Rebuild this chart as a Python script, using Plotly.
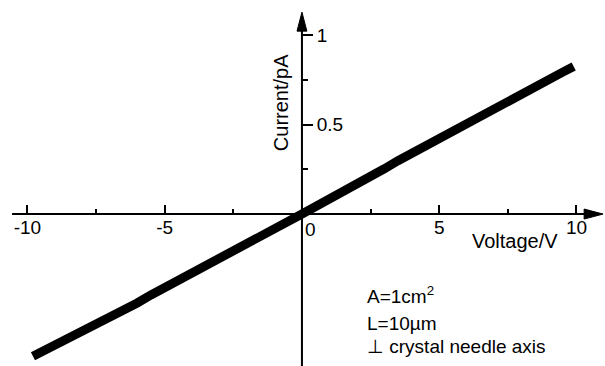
import plotly.graph_objects as go

# ---- data ----
voltage = [-9.8, -9.5, -9.0, -8.5, -8.0, -7.5, -7.0, -6.5, -6.0, -5.5, -5.0,
           -4.5, -4.0, -3.5, -3.0, -2.5, -2.0, -1.5, -1.0, -0.5, 0.0,
           0.5, 1.0, 1.5, 2.0, 2.5, 3.0, 3.5, 4.0, 4.5, 5.0,
           5.5, 6.0, 6.5, 7.0, 7.5, 8.0, 8.5, 9.0, 9.5, 9.9]
current = [-0.795, -0.772, -0.738, -0.698, -0.657, -0.618, -0.577, -0.538, -0.497, -0.452, -0.412,
           -0.372, -0.333, -0.290, -0.252, -0.210, -0.170, -0.127, -0.086, -0.043, 0.000,
           0.042, 0.082, 0.127, 0.168, 0.212, 0.253, 0.298, 0.340, 0.385, 0.428,
           0.468, 0.510, 0.552, 0.590, 0.633, 0.672, 0.712, 0.752, 0.793, 0.825]

x_major = [-10, -5, 5, 10]
x_major_text = ["-10", "-5", "5", "10"]
x_minor = [-7.5, -2.5, 2.5, 7.5]
y_major = [0.5, 1]
y_major_text = ["0.5", "1"]
y_minor = [0.25, 0.75]

x_range = [-11.0, 11.04]
y_range = [-0.849, 1.196]

FONT = "Liberation Sans, Arial, Helvetica, sans-serif"
FS = 19

fig = go.Figure()
fig.add_trace(go.Scatter(x=voltage, y=current, mode="lines",
                         line=dict(color="black", width=9),
                         hoverinfo="skip", showlegend=False))

xpos = (0 - y_range[0]) / (y_range[1] - y_range[0])
ypos = (0 - x_range[0]) / (x_range[1] - x_range[0])

fig.update_layout(
    width=605, height=366, autosize=False,
    margin=dict(l=0, r=0, t=0, b=0),
    paper_bgcolor="white", plot_bgcolor="white",
    font=dict(family=FONT, size=FS, color="black"),
    xaxis=dict(range=x_range, anchor="free", position=xpos, showgrid=False,
               zeroline=False, showline=False,
               tickmode="array", tickvals=x_major, ticktext=x_major_text,
               ticks="inside", ticklen=9, tickwidth=1.5, tickcolor="black",
               minor=dict(tickvals=x_minor, ticks="inside", ticklen=5,
                          tickwidth=1.5, tickcolor="black", showgrid=False),
               tickfont=dict(family=FONT, size=FS)),
    yaxis=dict(range=y_range, anchor="free", position=ypos, side="right",
               showgrid=False, zeroline=False, showline=False,
               tickmode="array", tickvals=y_major, ticktext=y_major_text,
               ticks="outside", ticklen=10, tickwidth=1.5, tickcolor="black",
               minor=dict(tickvals=y_minor, ticks="outside", ticklen=5,
                          tickwidth=1.5, tickcolor="black", showgrid=False),
               tickfont=dict(family=FONT, size=FS)),
)

# axis lines with arrowheads
fig.add_shape(type="line", xref="x", yref="y", x0=-10.56, x1=10.5, y0=0, y1=0,
              line=dict(color="black", width=2))
fig.add_shape(type="path", xref="x", yref="y",
              path="M 10.97,0 L 10.28,0.028 L 10.28,-0.028 Z",
              fillcolor="black", line=dict(color="black", width=1))
fig.add_shape(type="line", xref="x", yref="y", x0=0, x1=0, y0=y_range[0], y1=1.06,
              line=dict(color="black", width=2))
fig.add_shape(type="path", xref="x", yref="y",
              path="M 0,1.128 L -0.18,1.022 L 0.18,1.022 Z",
              fillcolor="black", line=dict(color="black", width=1))

# "0" tick label placed beside the vertical axis
fig.add_annotation(x=0, y=0, xref="x", yref="y", text="0", showarrow=False,
                   xanchor="left", yanchor="top", xshift=1, yshift=-3,
                   font=dict(family=FONT, size=FS))

# axis titles
fig.add_annotation(x=7.76, y=-0.151, xref="x", yref="y", text="Voltage/V",
                   showarrow=False, font=dict(family=FONT, size=20))
fig.add_annotation(x=0, y=0.625, xref="x", yref="y", text="Current/pA",
                   showarrow=False, textangle=-90, xshift=-21,
                   font=dict(family=FONT, size=20))

# notes
fig.add_annotation(x=2.3, y=-0.452, xref="x", yref="y", text="A=1cm<sup>2</sup>",
                   showarrow=False, xanchor="left", font=dict(family=FONT, size=FS))
fig.add_annotation(x=2.3, y=-0.609, xref="x", yref="y", text="L=10\u00b5m",
                   showarrow=False, xanchor="left", font=dict(family=FONT, size=FS))
fig.add_annotation(x=2.3, y=-0.738, xref="x", yref="y", text="\u22a5 crystal needle axis",
                   showarrow=False, xanchor="left", font=dict(family=FONT, size=FS))

fig.write_html("out.html", config={"displayModeBar": False},
               post_script="document.body.style.margin='0';document.body.style.padding='0';")
